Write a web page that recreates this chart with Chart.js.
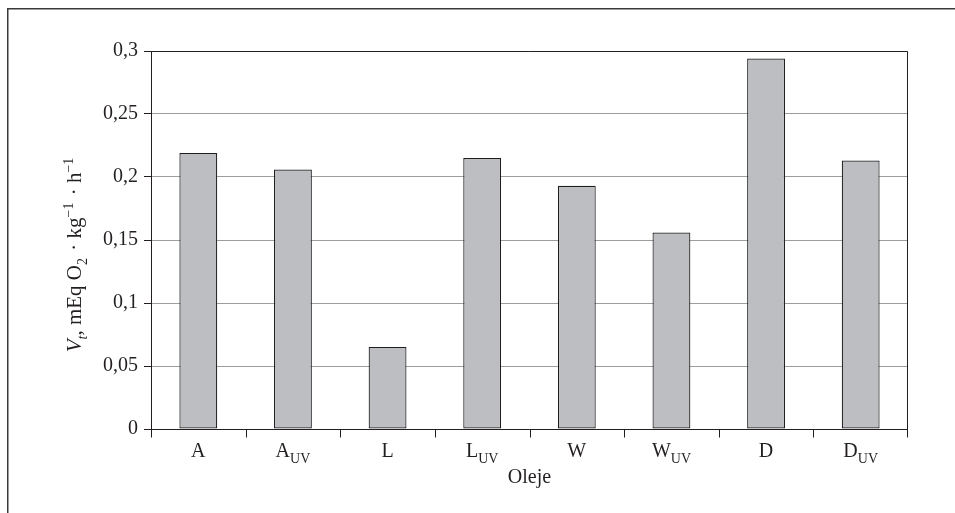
<!DOCTYPE html>
<html>
<head>
<meta charset="utf-8">
<script src="https://cdn.jsdelivr.net/npm/chart.js@4.4.1/dist/chart.umd.min.js"></script>
<style>
  html, body { margin: 0; padding: 0; background: #ffffff; }
  canvas { display: block; }
</style>
</head>
<body>
<canvas id="chart" width="955" height="513"></canvas>
<script>
// Oil samples: base letter and subscript of each category label
const categories = ['A', 'A', 'L', 'L', 'W', 'W', 'D', 'D'];
const categorySubs = ['', 'UV', '', 'UV', '', 'UV', '', 'UV'];
// Oxidation rate V_t, mEq O2 per kg per hour
const rates = [0.219, 0.206, 0.065, 0.215, 0.193, 0.156, 0.294, 0.213];
// Y axis ticks
const yTicks = [0, 0.05, 0.1, 0.15, 0.2, 0.25, 0.3];
const yTickLabels = ['0', '0,05', '0,1', '0,15', '0,2', '0,25', '0,3'];
const xTitle = 'Oleje';

const SERIF = '"Liberation Serif", "DejaVu Serif", serif';
const INK = '#231f20';

// Draw a run of text pieces (normal / sub / sup, optional italic), centred on x
function drawRich(ctx, parts, cx, baseline, size) {
  const fontFor = p => {
    const s = p.pos === 'base' ? size : Math.round(size * 0.68);
    return (p.italic ? 'italic ' : '') + s + 'px ' + SERIF;
  };
  let total = 0;
  parts.forEach(p => {
    ctx.font = fontFor(p);
    p.w = ctx.measureText(p.t).width + (p.gap || 0);
    total += p.w;
  });
  let x = cx - total / 2;
  ctx.textAlign = 'left';
  ctx.textBaseline = 'alphabetic';
  parts.forEach(p => {
    ctx.font = fontFor(p);
    let dy = 0;
    if (p.pos === 'sub') dy = size * 0.3;
    if (p.pos === 'sup') dy = -size * 0.4;
    ctx.fillText(p.t, x + (p.pre || 0), baseline + dy);
    x += p.w;
  });
}

const decorations = {
  id: 'decorations',
  beforeDraw(chart) {
    const ctx = chart.ctx;
    ctx.save();
    // figure frame (top and left edges)
    ctx.strokeStyle = '#3a3a3a';
    ctx.lineWidth = 1.5;
    ctx.beginPath();
    ctx.moveTo(955, 8.75);
    ctx.lineTo(7.75, 8.75);
    ctx.lineTo(7.75, 513);
    ctx.stroke();
    ctx.restore();
  },
  afterDraw(chart) {
    const ctx = chart.ctx;
    const a = chart.chartArea;
    const xs = chart.scales.x;
    const L = Math.round(a.left) + 0.5;
    const R = Math.round(a.right) - 0.5;
    const T = Math.round(a.top) + 0.5;
    const B = Math.round(a.bottom) + 0.5;
    ctx.save();
    ctx.strokeStyle = INK;
    ctx.lineWidth = 1;
    // plot frame
    ctx.beginPath();
    ctx.moveTo(L, T); ctx.lineTo(R, T);
    ctx.moveTo(R, T); ctx.lineTo(R, B + 8);
    ctx.moveTo(L, B); ctx.lineTo(R, B);
    ctx.moveTo(L, T); ctx.lineTo(L, B + 8);
    // category boundary ticks
    const n = categories.length;
    for (let i = 1; i < n; i++) {
      const x = Math.round((xs.getPixelForValue(i - 1) + xs.getPixelForValue(i)) / 2) + 0.5;
      ctx.moveTo(x, B); ctx.lineTo(x, B + 8);
    }
    ctx.stroke();

    ctx.fillStyle = INK;
    // category labels with subscripts
    categories.forEach((c, i) => {
      const cx = xs.getPixelForValue(i);
      const parts = [{ t: c, pos: 'base' }];
      if (categorySubs[i]) parts.push({ t: categorySubs[i], pos: 'sub' });
      drawRich(ctx, parts, cx, a.bottom + 28, 20);
    });
    // x axis title
    drawRich(ctx, [{ t: xTitle, pos: 'base' }], (a.left + a.right) / 2, a.bottom + 54, 20);

    // y axis title, rotated
    ctx.save();
    ctx.translate(81, (a.top + a.bottom) / 2 + 15);
    ctx.rotate(-Math.PI / 2);
    drawRich(ctx, [
      { t: 'V', pos: 'base', italic: true },
      { t: 't', pos: 'sub', italic: true },
      { t: ', mEq O', pos: 'base' },
      { t: '2', pos: 'sub' },
      { t: ' · kg', pos: 'base', pre: 2, gap: 2 },
      { t: '−1', pos: 'sup' },
      { t: ' · h', pos: 'base', pre: 2, gap: 2 },
      { t: '−1', pos: 'sup' }
    ], 0, 0, 21);
    ctx.restore();
    ctx.restore();
  }
};

new Chart(document.getElementById('chart'), {
  type: 'bar',
  data: {
    labels: categories.map((c, i) => c + categorySubs[i]),
    datasets: [{
      data: rates,
      backgroundColor: '#bdbec2',
      borderColor: '#1e1e1e',
      borderWidth: 1.2,
      borderSkipped: false,
      barPercentage: 0.4,
      categoryPercentage: 1.0
    }]
  },
  options: {
    responsive: false,
    animation: false,
    devicePixelRatio: 1,
    layout: { padding: { left: 60, top: 51, right: 47, bottom: 84 } },
    plugins: {
      legend: { display: false },
      tooltip: { enabled: false },
      title: { display: false }
    },
    scales: {
      x: {
        display: true,
        grid: { display: false },
        border: { display: false },
        ticks: { display: false },
        afterFit(scale) { scale.height = 0; }
      },
      y: {
        min: 0,
        max: 0.3,
        afterBuildTicks(scale) { scale.ticks = yTicks.map(v => ({ value: v })); },
        afterFit(scale) { scale.width = 91; },
        grid: {
          color: '#9d9d9d',
          lineWidth: 1,
          tickColor: INK,
          tickLength: 7,
          drawTicks: true
        },
        border: { display: true, color: INK, width: 1 },
        ticks: {
          color: INK,
          padding: 6,
          font: { family: SERIF, size: 20 },
          callback(value, index) { return yTickLabels[index]; }
        }
      }
    }
  },
  plugins: [decorations]
});
</script>
</body>
</html>
